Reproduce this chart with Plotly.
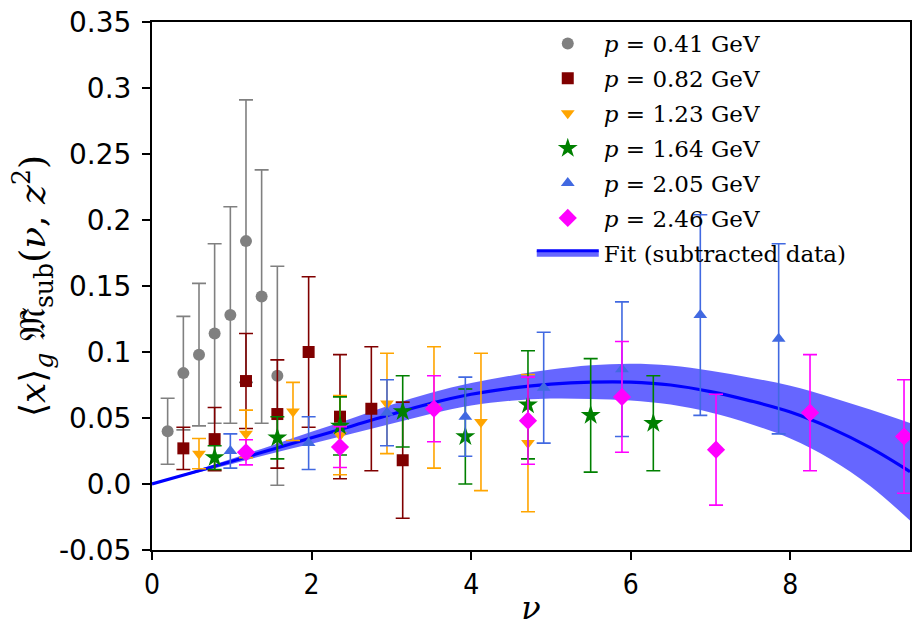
import plotly.graph_objects as go

# ---------------- data ----------------
labels = ["<i>p</i> = 0.41 GeV", "<i>p</i> = 0.82 GeV", "<i>p</i> = 1.23 GeV",
          "<i>p</i> = 1.64 GeV", "<i>p</i> = 2.05 GeV", "<i>p</i> = 2.46 GeV"]

nu_041 = [0.196, 0.393, 0.589, 0.785, 0.982, 1.178, 1.374, 1.571]
y_041 = [0.040, 0.084, 0.098, 0.114, 0.128, 0.184, 0.142, 0.082]
e_041 = [0.025, 0.043, 0.054, 0.068, 0.082, 0.107, 0.096, 0.083]

nu_082 = [0.393, 0.785, 1.178, 1.571, 1.963, 2.356, 2.749, 3.142]
y_082 = [0.027, 0.034, 0.078, 0.053, 0.100, 0.051, 0.057, 0.018]
e_082 = [0.016, 0.024, 0.036, 0.041, 0.057, 0.047, 0.047, 0.044]

nu_123 = [0.589, 1.178, 1.767, 2.356, 2.945, 3.534, 4.123, 4.712]
y_123 = [0.023, 0.038, 0.055, 0.037, 0.061, 0.058, 0.047, 0.031]
e_123 = [0.0115, 0.018, 0.022, 0.030, 0.038, 0.046, 0.052, 0.052]

nu_164 = [0.785, 1.571, 2.356, 3.142, 3.927, 4.712, 5.498, 6.283]
y_164 = [0.020, 0.035, 0.044, 0.055, 0.036, 0.060, 0.052, 0.046]
e_164 = [0.009, 0.016, 0.022, 0.027, 0.036, 0.041, 0.043, 0.036]

nu_205 = [0.982, 1.963, 2.945, 3.927, 4.909, 5.890, 6.872, 7.854]
y_205 = [0.025, 0.031, 0.054, 0.051, 0.073, 0.087, 0.128, 0.110]
e_205 = [0.013, 0.020, 0.025, 0.030, 0.042, 0.051, 0.076, 0.072]

nu_246 = [1.178, 2.356, 3.534, 4.712, 5.890, 7.069, 8.247, 9.425]
y_246 = [0.024, 0.028, 0.057, 0.048, 0.066, 0.026, 0.054, 0.036]
e_246 = [0.0095, 0.0155, 0.025, 0.033, 0.042, 0.042, 0.044, 0.043]

fit_nu = [0.0, 0.5, 1.0, 1.5, 2.0, 2.5, 3.0, 3.5, 4.0, 4.5,
          5.0, 5.5, 6.0, 6.5, 7.0, 7.5, 8.0, 8.5, 9.0, 9.5]
fit_c = [0.0, 0.0085, 0.0172, 0.0262, 0.0350, 0.0438, 0.0528, 0.0612, 0.0680, 0.0726,
         0.0757, 0.0772, 0.0772, 0.0750, 0.0700, 0.0630, 0.0545, 0.0425, 0.0275, 0.0093]
fit_w = [0.0, 0.001, 0.002, 0.003, 0.0045, 0.0058, 0.0072, 0.0080, 0.0085, 0.0095,
         0.0110, 0.0128, 0.0139, 0.0148, 0.0158, 0.0175, 0.0200, 0.0235, 0.0290, 0.0370]
fit_label = "Fit (subtracted data)"

x_ticks = [0, 2, 4, 6, 8]
y_ticks = [-0.05, 0.0, 0.05, 0.1, 0.15, 0.2, 0.25, 0.3, 0.35]
y_ticktext = ["-0.05", "0.0", "0.05", "0.1", "0.15", "0.2", "0.25", "0.3", "0.35"]

# ---------------- styles ----------------
series = [
    (nu_041, y_041, e_041, "grey", "circle", 12),
    (nu_082, y_082, e_082, "#800000", "square", 12),
    (nu_123, y_123, e_123, "orange", "triangle-down", 12),
    (nu_164, y_164, e_164, "green", "star", 15),
    (nu_205, y_205, e_205, "royalblue", "triangle-up", 12),
    (nu_246, y_246, e_246, "magenta", "diamond", 14),
]
band_color = "rgba(0,0,255,0.6)"

fig = go.Figure()

upper = [c + w for c, w in zip(fit_c, fit_w)]
lower = [c - w for c, w in zip(fit_c, fit_w)]
fig.add_trace(go.Scatter(x=fit_nu, y=upper, mode="lines", line=dict(width=0, shape="spline"),
                         showlegend=False, hoverinfo="skip"))
fig.add_trace(go.Scatter(x=fit_nu, y=lower, mode="lines", line=dict(width=0, shape="spline"),
                         fill="tonexty", fillcolor=band_color, showlegend=False, hoverinfo="skip"))
fig.add_trace(go.Scatter(x=fit_nu, y=fit_c, mode="lines",
                         line=dict(color="blue", width=3.2, shape="spline"),
                         showlegend=False))

for i, (xs, ys, es, col, sym, sz) in enumerate(series):
    fig.add_trace(go.Scatter(
        x=xs, y=ys, mode="markers", name=labels[i], legendgroup=f"g{i}",
        marker=dict(color=col, symbol=sym, size=sz, line=dict(width=0)),
        error_y=dict(type="data", array=es, visible=True, color=col, thickness=1.6, width=7),
    ))

# legend entry for the fit (band + line)
fig.add_trace(go.Scatter(x=[None], y=[None], mode="lines", name=fit_label, legendgroup="fit",
                         fill="toself", fillcolor=band_color,
                         line=dict(color="blue", width=3)))

axis_common = dict(showline=True, linecolor="black", linewidth=2, mirror=True,
                   ticks="outside", ticklen=8, tickwidth=2, tickcolor="black",
                   showgrid=False, zeroline=False)

fig.update_layout(
    width=913, height=627,
    margin=dict(l=152, r=1, t=22, b=77),
    plot_bgcolor="white", paper_bgcolor="white",
    xaxis=dict(range=[0, 9.5], tickvals=x_ticks,
               tickfont=dict(family="Liberation Sans Narrow, DejaVu Sans Condensed, DejaVu Sans", size=28, color="black"),
               title=dict(text="<i>ν</i>", font=dict(family="DejaVu Serif", size=32, color="black"), standoff=2),
               **axis_common),
    yaxis=dict(range=[-0.05, 0.35], tickvals=y_ticks, ticktext=y_ticktext,
               tickfont=dict(family="DejaVu Sans", size=28, color="black"),
               ticklabelstandoff=5,
               title=dict(text="⟨<i>x</i>⟩<sub><i>g</i></sub> 𝔐̃<sub>sub</sub>(<i>ν</i>, <i>z</i><sup>2</sup>)",
                          font=dict(family="DejaVu Serif", size=36, color="black"), standoff=2),
               **axis_common),
    legend=dict(x=0.501, y=1.0, xanchor="left", yanchor="top", bgcolor="rgba(0,0,0,0)",
                font=dict(family="DejaVu Serif", size=23, color="black"),
                itemwidth=62,
                traceorder="grouped", tracegroupgap=2),
    showlegend=True,
)

fig.write_html("out.html")
